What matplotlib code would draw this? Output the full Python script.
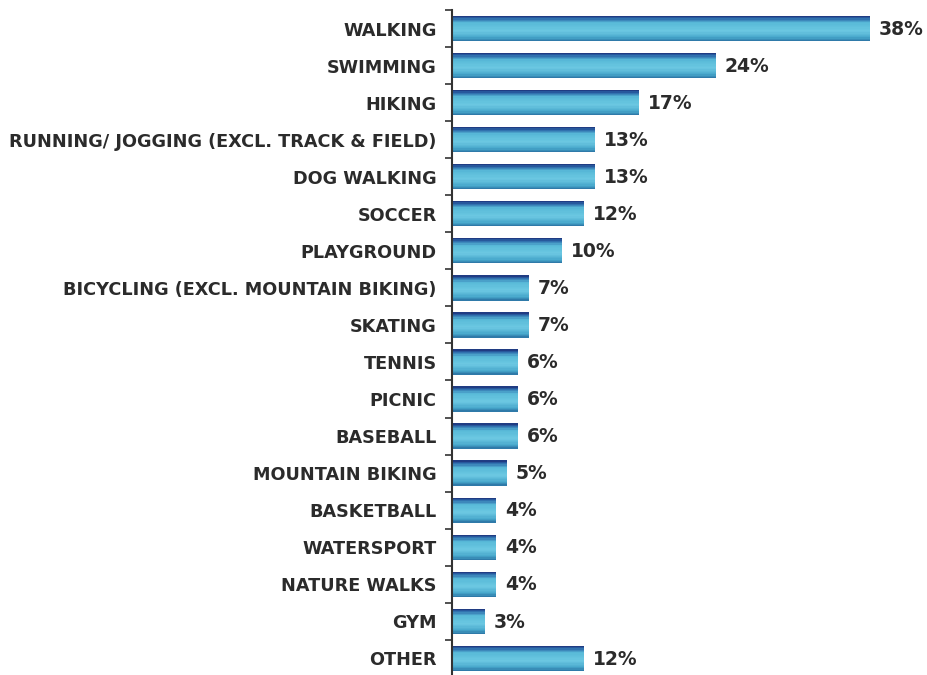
import matplotlib
matplotlib.use("Agg")
import matplotlib.pyplot as plt
import numpy as np
from matplotlib.colors import LinearSegmentedColormap

categories = ["WALKING", "SWIMMING", "HIKING", "RUNNING/ JOGGING (EXCL. TRACK & FIELD)",
              "DOG WALKING", "SOCCER", "PLAYGROUND", "BICYCLING (EXCL. MOUNTAIN BIKING)",
              "SKATING", "TENNIS", "PICNIC", "BASEBALL", "MOUNTAIN BIKING", "BASKETBALL",
              "WATERSPORT", "NATURE WALKS", "GYM", "OTHER"]
values = [38, 24, 17, 13, 13, 12, 10, 7, 7, 6, 6, 6, 5, 4, 4, 4, 3, 12]

plt.rcParams['font.family'] = ['DejaVu Sans']

fig = plt.figure(figsize=(9.27, 6.75), dpi=100)
ax = fig.add_axes([452/927, 0, 1 - 452/927, 665/675])

y = np.arange(len(categories))
h = 0.68
# vertical gradient across bar height: top dark navy -> light cyan -> darker teal bottom
cmap = LinearSegmentedColormap.from_list("g", [
    (0.0, "#1d2f78"), (0.1, "#2a66a8"), (0.28, "#58bad8"),
    (0.6, "#6cc8e2"), (0.85, "#48a8cc"), (1.0, "#2a72a2")])
nstrip = 20
for k in range(nstrip):
    frac0 = k / nstrip
    col = cmap((k + 0.5) / nstrip)
    ax.barh(y - h/2 + frac0*h, values, height=h/nstrip + 0.002, left=0,
            align='edge', color=col, linewidth=0)

for yi, v in zip(y, values):
    ax.text(v + 0.8, yi + 0.02, f"{v}%", va='center', ha='left',
            fontsize=13.5, fontweight='bold', color='#2b2b2b')

ax.set_xlim(0, (927-452)/11)
ax.set_ylim(17.45, -0.5)
ax.set_yticks(y)
ax.set_yticklabels(categories, fontsize=12.7, fontweight='bold', color='#2b2b2b')
ax.tick_params(axis='y', which='major', length=0, pad=11)
ax.set_yticks(np.arange(-0.5, 17.5, 1), minor=True)
ax.tick_params(axis='y', which='minor', length=5, width=1.2, color='#333333')
ax.set_xticks([])
for s in ['top', 'right', 'bottom']:
    ax.spines[s].set_visible(False)
ax.spines['left'].set_linewidth(1.5)
ax.spines['left'].set_color('#333333')

fig.savefig("out.png", dpi=100)
